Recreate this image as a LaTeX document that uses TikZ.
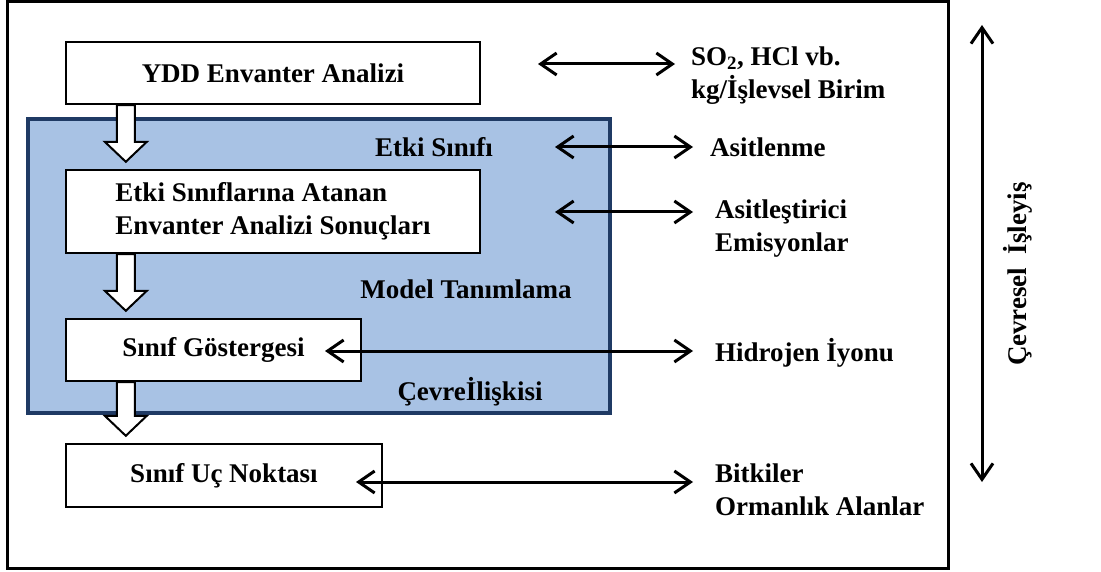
\documentclass[tikz,border=0pt]{standalone}
\usepackage{fontspec}
\setmainfont{Liberation Serif}
\usetikzlibrary{positioning, arrows.meta, calc}

\definecolor{regionfill}{RGB}{168,194,228}
\definecolor{regionedge}{RGB}{31,58,100}

% white block arrow from one box down to the next
\newcommand{\blockdown}[2]{%
  \draw[blockarrow] let \p1=([xshift=61pt]#1.south west), \p2=([xshift=61pt,yshift=7pt]#2.north west) in
    (\x1-9pt,\y1) -- (\x1+9pt,\y1) -- (\x1+9pt,\y2+20pt) -- (\x1+21pt,\y2+20pt)
    -- (\x1,\y2) -- (\x1-21pt,\y2+20pt) -- (\x1-9pt,\y2+20pt) -- cycle;}

\begin{document}
\begin{tikzpicture}[
    x=1pt, y=-1pt,
    every node/.style={font=\fontsize{27}{33}\selectfont\bfseries},
    box/.style={draw, line width=2.4pt, fill=white, inner sep=0pt},
    region/.style={draw=regionedge, line width=3.5pt, fill=regionfill, inner sep=0pt},
    lbl/.style={inner sep=0pt, align=left},
    arrow/.style={{Straight Barb[length=16pt,width=22pt]}-{Straight Barb[length=16pt,width=22pt]}, line width=3pt},
    blockarrow/.style={draw, fill=white, line width=2pt}
]
\useasboundingbox (0,0) rectangle (1101,572);

% Outer frame
\draw[line width=3pt] (7,2) rectangle (948,568);

% Shaded region
\node[region, minimum width=582pt, minimum height=294pt] (region) at (319,266) {};

% Boxes on the left
\node[box, minimum width=414pt, minimum height=62pt] (ydd)  at (273,73)    {YDD Envanter Analizi};
\node[box, minimum width=414pt, minimum height=83pt, align=left] (etki) at (273,211.5)
    {Etki Sınıflarına Atanan\\Envanter Analizi Sonuçları};
\node[box, minimum width=295pt, minimum height=62pt] (gost) at (213.5,350) {Sınıf Göstergesi};
\node[box, minimum width=316pt, minimum height=63pt] (uc)   at (224,475.5) {Sınıf Uç Noktası};

% Labels inside the region
\node[lbl] (sinif)  at (434,147) {Etki Sınıfı};
\node[lbl] (model)  at (466,289) {Model Tanımlama};
\node[lbl] (iliski) at (470,392) {Çevreİlişkisi};

% Labels on the right
\node[lbl, anchor=west] (so2)    at (691,76)  {SO\textsubscript{2}, HCl vb.\\kg/İşlevsel Birim};
\node[lbl, anchor=west] (asit)   at (710,147) {Asitlenme};
\node[lbl, anchor=west] (emis)   at (715,229) {Asitleştirici\\Emisyonlar};
\node[lbl, anchor=west] (hidro)  at (715,353) {Hidrojen İyonu};
\node[lbl, anchor=west] (bitki)  at (715,490) {Bitkiler\\Ormanlık Alanlar};
\node[rotate=90, inner sep=0pt] (islev) at (1018,274) {Çevresel\ \ İşleyiş};

% Block arrows
\blockdown{ydd}{etki}
\blockdown{etki}{gost}
\blockdown{gost}{uc}

% Arrow ends
\coordinate (so2l)   at (538,64);  \coordinate (so2r)   at (675,64);
\coordinate (asitl)  at (555,147); \coordinate (asitr)  at (693,147);
\coordinate (emisl)  at (555,212); \coordinate (emisr)  at (693,212);
\coordinate (hidrol) at (325,351); \coordinate (hidror) at (693,351);
\coordinate (bitkil) at (356,482); \coordinate (bitkir) at (693,482);
\coordinate (vtop)   at (982,25);  \coordinate (vbot)   at (982,482);

% Double arrows
\draw[arrow] (so2l) -- (so2r);
\draw[arrow] (asitl) -- (asitr);
\draw[arrow] (emisl) -- (emisr);
\draw[arrow] (hidrol) -- (hidror);
\draw[arrow] (bitkil) -- (bitkir);
\draw[arrow] (vtop) -- (vbot);

\end{tikzpicture}
\end{document}
